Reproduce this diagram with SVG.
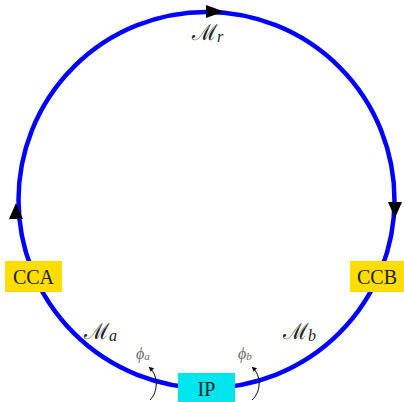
<svg xmlns="http://www.w3.org/2000/svg" width="404" height="402" viewBox="0 0 404 402">
<defs>
<style>
.ring{fill:none;stroke:#0000ff;stroke-width:4.5}
.arr{fill:#000}
.lbl{font-family:'Liberation Serif',serif;font-size:20px;fill:#222;text-anchor:middle}
.m{font-family:'DejaVu Serif','Liberation Serif',serif;font-size:22px;fill:#222}
.sub{font-family:'Liberation Serif','DejaVu Serif',serif;font-style:italic;font-size:16px;fill:#222}
.phi{font-family:'Liberation Serif','DejaVu Serif',serif;font-style:italic;font-size:16px;fill:#666}
.phis{font-family:'Liberation Serif','DejaVu Serif',serif;font-style:italic;font-size:11px;fill:#666}
.small{fill:none;stroke:#000;stroke-width:1}
</style>
<marker id="ah" viewBox="0 0 10 10" refX="9" refY="5" markerWidth="5" markerHeight="5" orient="auto">
<path d="M0,0 L10,5 L0,10 z" fill="#000"/>
</marker>
</defs>
<g id="connectors">
<circle class="ring" cx="206.5" cy="200" r="188"/>
<path class="arr" d="M206,5 L224,11.5 L206,18 z"/>
<path class="arr" d="M16,203 L23,219 L9,219 z"/>
<path class="arr" d="M395,218 L388,202 L402,202 z"/>
<path class="small" d="M150,400 C158,392 159,376 149,367" marker-end="url(#ah)"/>
<path class="small" d="M252,400 C261,392 262,376 252,367" marker-end="url(#ah)"/>
</g>
<g id="CCA">
<rect x="5" y="261" width="57" height="31" fill="#ffdd00"/>
<text class="lbl" x="33.5" y="284">CCA</text>
</g>
<g id="CCB">
<rect x="350" y="261" width="54" height="31" fill="#ffdd00"/>
<text class="lbl" x="377" y="284">CCB</text>
</g>
<g id="IP">
<rect x="178" y="373" width="57" height="31" fill="#00e5ee"/>
<text class="lbl" x="206.5" y="396">IP</text>
</g>
<g id="labels">
<text x="192" y="40"><tspan class="m">ℳ</tspan><tspan class="sub" dy="2">r</tspan></text>
<text x="84" y="339"><tspan class="m">ℳ</tspan><tspan class="sub" dy="2">a</tspan></text>
<text x="283" y="339"><tspan class="m">ℳ</tspan><tspan class="sub" dy="2">b</tspan></text>
<text x="136" y="359"><tspan class="phi">ϕ</tspan><tspan class="phis" dy="1">a</tspan></text>
<text x="238" y="359"><tspan class="phi">ϕ</tspan><tspan class="phis" dy="1">b</tspan></text>
</g>
</svg>
